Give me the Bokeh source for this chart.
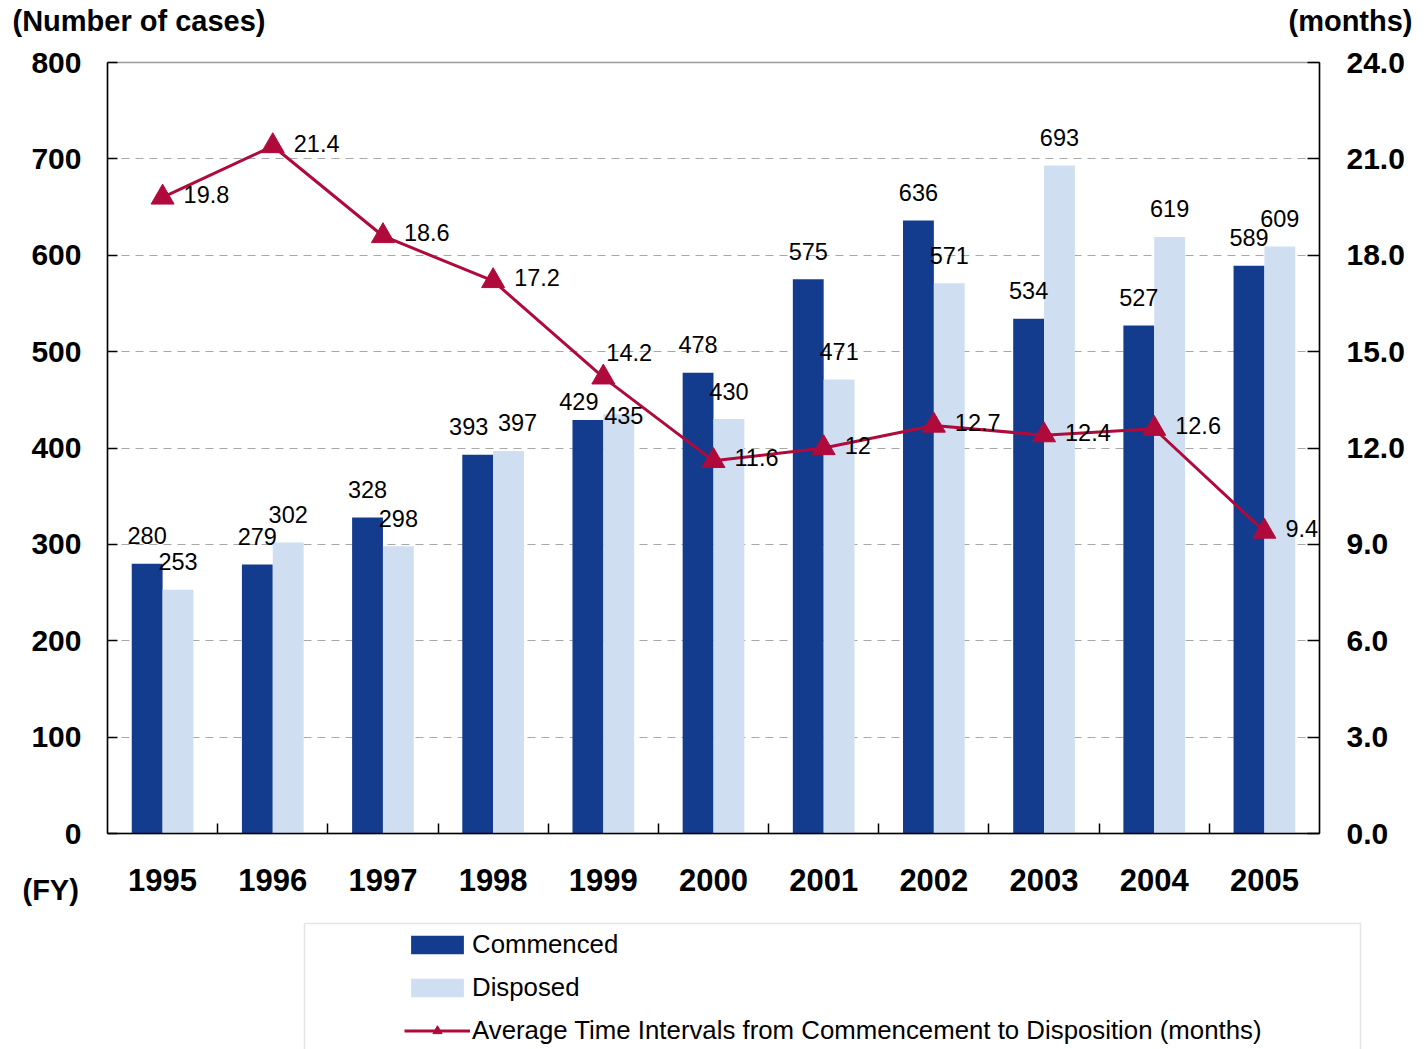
from bokeh.plotting import figure
from bokeh.models import (Range1d, LinearAxis, FixedTicker, Legend, LegendItem, Grid, GridBox, Column,
                          BoxAnnotation, Label, LabelSet, ColumnDataSource, PrintfTickFormatter)
from bokeh.core.properties import value
from bokeh.embed import file_html
from bokeh.resources import INLINE
import numpy as np

# ---- data ----
years = ["1995", "1996", "1997", "1998", "1999", "2000", "2001", "2002", "2003", "2004", "2005"]
commenced = [280, 279, 328, 393, 429, 478, 575, 636, 534, 527, 589]
disposed = [253, 302, 298, 397, 435, 430, 471, 571, 693, 619, 609]
avg_months = [19.8, 21.4, 18.6, 17.2, 14.2, 11.6, 12, 12.7, 12.4, 12.6, 9.4]
avg_labels = ["19.8", "21.4", "18.6", "17.2", "14.2", "11.6", "12", "12.7", "12.4", "12.6", "9.4"]
left_ticks = [0, 100, 200, 300, 400, 500, 600, 700, 800]
right_ticks = [0, 3, 6, 9, 12, 15, 18, 21, 24]

# label placement tweaks (screen px), kept apart from the data
com_dx = [0, 0, 0, -9, -9, 0, 0, 0, 0, 0, 0]
com_dy = [28, 28, 28, 28, 19, 28, 28, 28, 28, 28, 28]
dis_dx = [0, 0, 0, 9, 5, 0, 0, 0, 0, 0, 0]
dis_dy = [28, 28, 28, 28, -1, 28, 28, 28, 28, 28, 28]
avg_dx = [21, 21, 21, 21, 3, 21, 21, 21, 21, 21, 21]
avg_dy = [3, 3, 3, 3, 25, 3, 3, 3, 3, 3, 3]

DARK = "#143C8E"
LIGHT = "#CFDFF1"
RED = "#B00A3C"
FONT = "Liberation Sans"
BW = 0.28
W, H = 1420, 1049

x = np.arange(len(years))

p = figure(width=W, height=H, x_range=Range1d(-0.5, 10.5), y_range=Range1d(0, 800),
           output_backend="svg", toolbar_location=None, title=None,
           x_axis_type=None, y_axis_type=None,
           min_border_left=107, min_border_right=101, min_border_top=62, min_border_bottom=216)
p.extra_y_ranges = {"months": Range1d(0, 24)}
p.outline_line_color = "#9a9a9a"
p.outline_line_width = 1.5
p.background_fill_color = "white"
p.border_fill_color = "white"

def style_axis(ax, size="30px"):
    ax.axis_line_color = "black"
    ax.axis_line_width = 1.5
    ax.major_tick_line_color = "black"
    ax.major_tick_line_width = 1.5
    ax.minor_tick_line_color = "black"
    ax.minor_tick_line_width = 1.5
    ax.major_label_text_font = FONT
    ax.major_label_text_font_style = "bold"
    ax.major_label_text_font_size = size
    ax.major_label_text_color = "black"

yl = LinearAxis(ticker=FixedTicker(ticks=left_ticks))
style_axis(yl)
yl.major_tick_in = 10
yl.major_tick_out = 0
yl.major_label_standoff = 26
p.add_layout(yl, "left")

yr = LinearAxis(y_range_name="months", ticker=FixedTicker(ticks=right_ticks),
                formatter=PrintfTickFormatter(format="%.1f"))
style_axis(yr)
yr.major_tick_in = 12
yr.major_tick_out = 0
yr.major_label_standoff = 27
p.add_layout(yr, "right")

xb = LinearAxis(ticker=FixedTicker(ticks=list(range(len(years))),
                                   minor_ticks=[i + 0.5 for i in range(len(years) - 1)]),
                major_label_overrides={i: years[i] for i in range(len(years))})
style_axis(xb, "31px")
xb.major_tick_in = 0
xb.major_tick_out = 0
xb.minor_tick_in = 10
xb.minor_tick_out = 0
xb.major_label_standoff = 35
p.add_layout(xb, "below")

grid = Grid(dimension=1, ticker=FixedTicker(ticks=left_ticks[1:-1]))
grid.grid_line_color = "#a8a8a8"
grid.grid_line_dash = "8 6"
grid.grid_line_width = 1
p.add_layout(grid)

src = ColumnDataSource(dict(
    xc=x - BW / 2, xd=x + BW / 2, x=x,
    com=commenced, dis=disposed, avg=avg_months,
    com_t=[str(v) for v in commenced], dis_t=[str(v) for v in disposed], avg_t=avg_labels,
    com_dx=com_dx, com_dy=com_dy, dis_dx=dis_dx, dis_dy=dis_dy, avg_dx=avg_dx, avg_dy=avg_dy,
))

bar_kw = dict(width=BW, source=src, line_color=None)
line_kw = dict(x="x", y="avg", source=src, line_color=RED, line_width=3)
pts_kw = dict(x="x", y="avg", source=src, marker="triangle", fill_color=RED, line_color=RED)

p.vbar(x="xc", top="com", fill_color=DARK, **bar_kw)
p.vbar(x="xd", top="dis", fill_color=LIGHT, **bar_kw)
p.line(y_range_name="months", **line_kw)
p.scatter(y_range_name="months", size=23, **pts_kw)

lab_kw = dict(text_font=value(FONT), text_font_size="23.5px", text_color="black",
              text_align="center", text_baseline="middle")
p.add_layout(LabelSet(x="xc", y="com", text="com_t", x_offset="com_dx", y_offset="com_dy",
                      source=src, **lab_kw))
p.add_layout(LabelSet(x="xd", y="dis", text="dis_t", x_offset="dis_dx", y_offset="dis_dy",
                      source=src, **lab_kw))
p.add_layout(LabelSet(x="x", y="avg", text="avg_t", x_offset="avg_dx", y_offset="avg_dy",
                      y_range_name="months", source=src,
                      text_font=value(FONT), text_font_size="23.5px", text_color="black",
                      text_align="left", text_baseline="middle"))

# ---- overlay figure for texts, legend and legend box outside the plot frame ----
o = figure(width=W, height=H, x_range=Range1d(0, W), y_range=Range1d(H, 0),
           output_backend="svg", toolbar_location=None, title=None,
           x_axis_type=None, y_axis_type=None, min_border=0)
o.outline_line_color = None
o.background_fill_alpha = 0
o.border_fill_alpha = 0

title_kw = dict(text_font=FONT, text_font_style="bold", text_font_size="29px",
                text_color="black", text_baseline="middle")
o.add_layout(Label(x=12, y=20, text="(Number of cases)", text_align="left", **title_kw))
o.add_layout(Label(x=1412, y=20, text="(months)", text_align="right", **title_kw))
o.add_layout(Label(x=22, y=889, text="(FY)", text_align="left", **title_kw))

o.add_layout(BoxAnnotation(left=304, right=1360, top=923, bottom=H + 40,
                           fill_alpha=0, line_color="#aaaaaa", line_width=1.5))

# legend entries: same series, hidden on the overlay, only their legend glyphs are drawn
lg_com = o.vbar(x="xc", top="com", fill_color=DARK, visible=False, **bar_kw)
lg_dis = o.vbar(x="xd", top="dis", fill_color=LIGHT, visible=False, **bar_kw)
lg_line = o.line(visible=False, **line_kw)
lg_pts = o.scatter(size=19, visible=False, **pts_kw)

legend = Legend(items=[
    LegendItem(label="Commenced", renderers=[lg_com]),
    LegendItem(label="Disposed", renderers=[lg_dis]),
    LegendItem(label="Average Time Intervals from Commencement to Disposition (months)",
               renderers=[lg_line, lg_pts]),
], location=(404, 4))
legend.padding = 0
legend.margin = 0
legend.spacing = 14
legend.glyph_width = 66
legend.glyph_height = 23
legend.label_height = 24
legend.label_standoff = 2
legend.label_text_font = FONT
legend.label_text_font_size = "25.8px"
legend.label_text_color = "black"
legend.border_line_color = None
legend.background_fill_alpha = 0
legend.inactive_fill_alpha = 0
o.add_layout(legend, "center")

layout = GridBox(children=[(Column(children=[p]), 0, 0), (Column(children=[o]), 0, 0)])

open("out.html", "w").write(file_html(layout, INLINE))
